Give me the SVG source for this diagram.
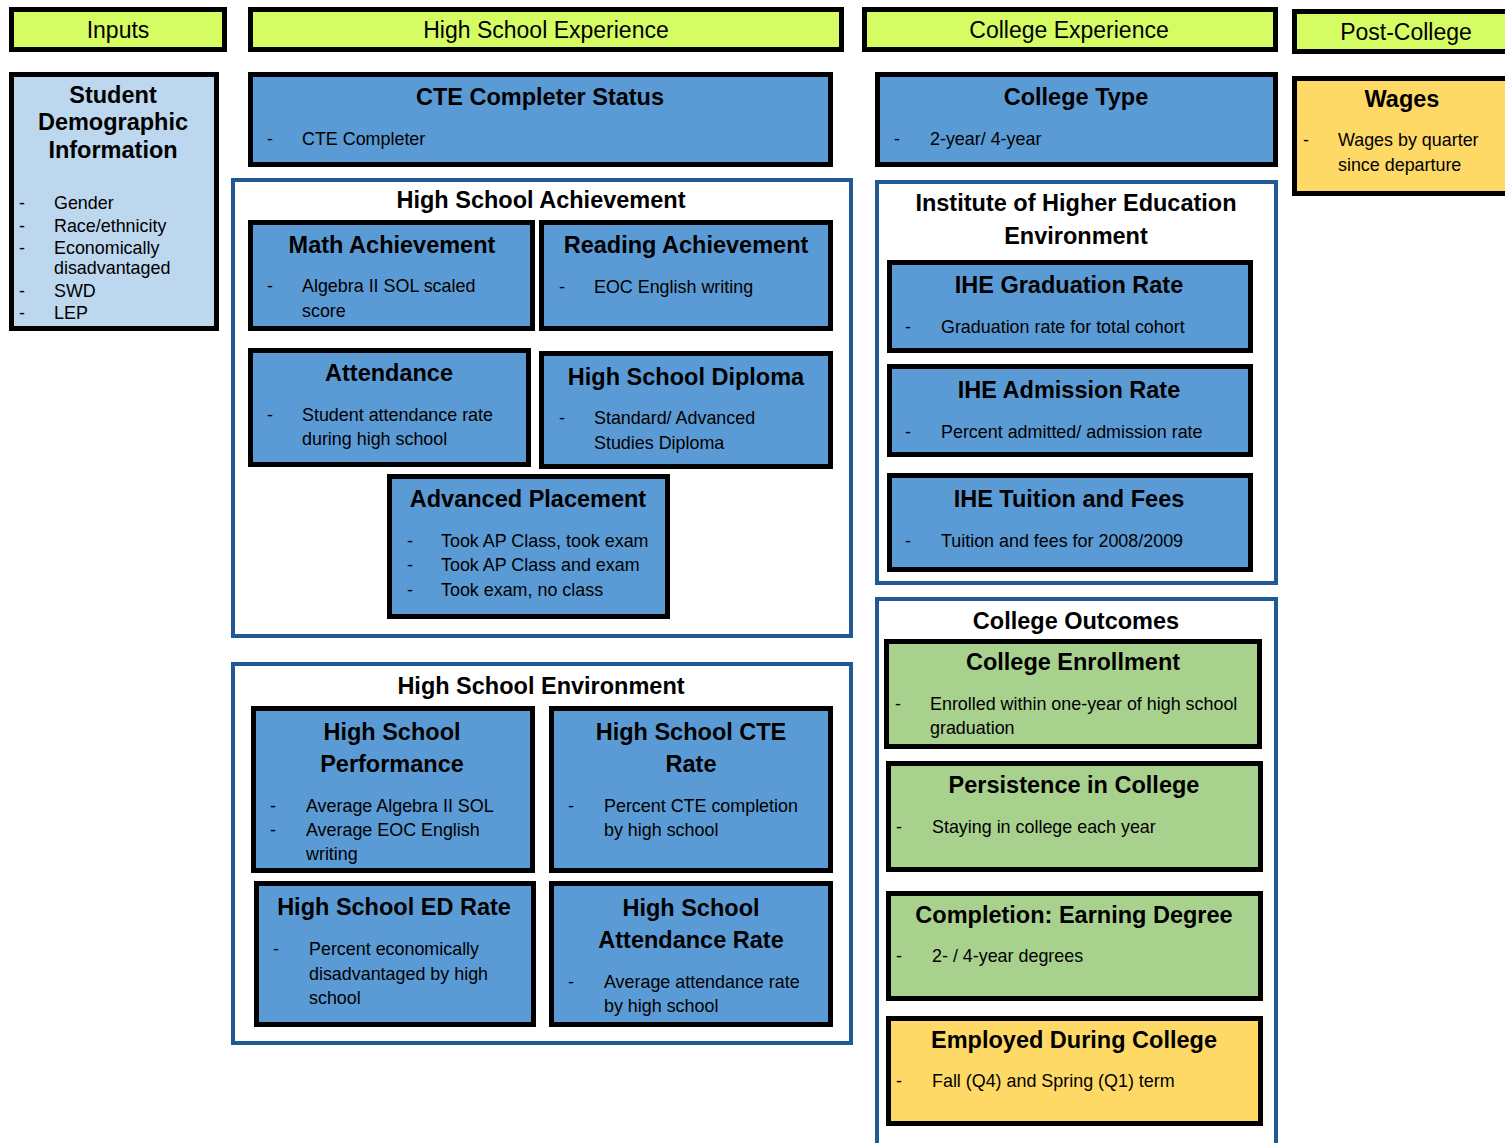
<svg xmlns="http://www.w3.org/2000/svg" width="1505" height="1143" viewBox="0 0 1505 1143">
<style>
text{font-family:"Liberation Sans",Arial,sans-serif;fill:#000}
.hdr{fill:#d5fd63;stroke:#000;stroke-width:5}
.blue{fill:#5b9bd5;stroke:#000;stroke-width:5}
.lblue{fill:#bdd7ee;stroke:#000;stroke-width:5}
.green{fill:#a9d18e;stroke:#000;stroke-width:5}
.yellow{fill:#ffd966;stroke:#000;stroke-width:5}
.cont{fill:#fff;stroke:#1f5a96;stroke-width:4}
.ht{font-size:23px;text-anchor:middle}
.tt{font-size:23.5px;font-weight:bold;text-anchor:middle}
.bt{font-size:17.9px}
.body{transform:translateY(1px)}
</style>
<rect width="1505" height="1143" fill="#fff"/>
<g id="headers">
<g id="h-inputs"><rect class="hdr" x="11.5" y="9.5" width="213" height="40"/><text class="ht" x="118" y="38">Inputs</text></g>
<g id="h-hs"><rect class="hdr" x="250.5" y="9.5" width="591" height="40"/><text class="ht" x="546" y="38">High School Experience</text></g>
<g id="h-college"><rect class="hdr" x="864.5" y="9.5" width="411" height="40"/><text class="ht" x="1069" y="38">College Experience</text></g>
<g id="h-post"><rect class="hdr" x="1294.5" y="11.5" width="220" height="40"/><text class="ht" x="1406" y="40">Post-College</text></g>
</g>
<g id="containers">
<g id="c-hsach"><rect class="cont" x="233" y="180" width="618" height="456"/><text class="tt" x="541" y="208">High School Achievement</text></g>
<g id="c-hsenv"><rect class="cont" x="233" y="664" width="618" height="379"/><text class="tt" x="541" y="694">High School Environment</text></g>
<g id="c-ihe"><rect class="cont" x="877" y="182" width="399" height="401"/><text class="tt" x="1076" y="211">Institute of Higher Education</text><text class="tt" x="1076" y="244">Environment</text></g>
<g id="c-outcomes"><rect class="cont" x="877" y="599" width="399" height="560"/><text class="tt" x="1076" y="629">College Outcomes</text></g>
</g>
<g id="nodes">
<g id="n-demo"><rect class="lblue" x="11.5" y="74.5" width="205" height="254"/>
<text class="tt" x="113" y="103">Student</text><text class="tt" x="113" y="130">Demographic</text><text class="tt" x="113" y="158">Information</text>
<g class="body"><text class="bt" x="19" y="208">-</text><text class="bt" x="54" y="208">Gender</text>
<text class="bt" x="19" y="231">-</text><text class="bt" x="54" y="231">Race/ethnicity</text>
<text class="bt" x="19" y="253">-</text><text class="bt" x="54" y="253">Economically</text>
<text class="bt" x="54" y="273">disadvantaged</text>
<text class="bt" x="19" y="296">-</text><text class="bt" x="54" y="296">SWD</text>
<text class="bt" x="19" y="318">-</text><text class="bt" x="54" y="318">LEP</text></g></g>
<g id="n-cte"><rect class="blue" x="250.5" y="74.5" width="580" height="90"/><text class="tt" x="540" y="105">CTE Completer Status</text>
<g class="body"><text class="bt" x="267" y="144">-</text><text class="bt" x="302" y="144">CTE Completer</text></g></g>
<g id="n-math"><rect class="blue" x="250.5" y="222.5" width="282" height="106"/><text class="tt" x="392" y="253">Math Achievement</text>
<g class="body"><text class="bt" x="267" y="291">-</text><text class="bt" x="302" y="291">Algebra II SOL scaled</text><text class="bt" x="302" y="316">score</text></g></g>
<g id="n-reading"><rect class="blue" x="541.5" y="222.5" width="289" height="106"/><text class="tt" x="686" y="253">Reading Achievement</text>
<g class="body"><text class="bt" x="559" y="292">-</text><text class="bt" x="594" y="292">EOC English writing</text></g></g>
<g id="n-attend"><rect class="blue" x="250.5" y="350.5" width="278" height="114"/><text class="tt" x="389" y="381">Attendance</text>
<g class="body"><text class="bt" x="267" y="420">-</text><text class="bt" x="302" y="420">Student attendance rate</text><text class="bt" x="302" y="444">during high school</text></g></g>
<g id="n-diploma"><rect class="blue" x="541.5" y="353.5" width="289" height="113"/><text class="tt" x="686" y="385">High School Diploma</text>
<g class="body"><text class="bt" x="559" y="423">-</text><text class="bt" x="594" y="423">Standard/ Advanced</text><text class="bt" x="594" y="448">Studies Diploma</text></g></g>
<g id="n-ap"><rect class="blue" x="389.5" y="476.5" width="278" height="140"/><text class="tt" x="528" y="507">Advanced Placement</text>
<g class="body"><text class="bt" x="407" y="546">-</text><text class="bt" x="441" y="546">Took AP Class, took exam</text>
<text class="bt" x="407" y="570">-</text><text class="bt" x="441" y="570">Took AP Class and exam</text>
<text class="bt" x="407" y="595">-</text><text class="bt" x="441" y="595">Took exam, no class</text></g></g>
<g id="n-hsperf"><rect class="blue" x="253.5" y="708.5" width="279" height="162"/><text class="tt" x="392" y="740">High School</text><text class="tt" x="392" y="772">Performance</text>
<g class="body"><text class="bt" x="270" y="811">-</text><text class="bt" x="306" y="811">Average Algebra II SOL</text>
<text class="bt" x="270" y="835">-</text><text class="bt" x="306" y="835">Average EOC English</text><text class="bt" x="306" y="859">writing</text></g></g>
<g id="n-hscte"><rect class="blue" x="551.5" y="708.5" width="279" height="162"/><text class="tt" x="691" y="740">High School CTE</text><text class="tt" x="691" y="772">Rate</text>
<g class="body"><text class="bt" x="568" y="811">-</text><text class="bt" x="604" y="811">Percent CTE completion</text><text class="bt" x="604" y="835">by high school</text></g></g>
<g id="n-hsed"><rect class="blue" x="256.5" y="883.5" width="277" height="141"/><text class="tt" x="394" y="915">High School ED Rate</text>
<g class="body"><text class="bt" x="273" y="954">-</text><text class="bt" x="309" y="954">Percent economically</text><text class="bt" x="309" y="979">disadvantaged by high</text><text class="bt" x="309" y="1003">school</text></g></g>
<g id="n-hsatt"><rect class="blue" x="551.5" y="883.5" width="279" height="141"/><text class="tt" x="691" y="916">High School</text><text class="tt" x="691" y="948">Attendance Rate</text>
<g class="body"><text class="bt" x="568" y="987">-</text><text class="bt" x="604" y="987">Average attendance rate</text><text class="bt" x="604" y="1011">by high school</text></g></g>
<g id="n-ctype"><rect class="blue" x="877.5" y="74.5" width="398" height="90"/><text class="tt" x="1076" y="105">College Type</text>
<g class="body"><text class="bt" x="894" y="144">-</text><text class="bt" x="930" y="144">2-year/ 4-year</text></g></g>
<g id="n-ihegrad"><rect class="blue" x="889.5" y="262.5" width="361" height="88"/><text class="tt" x="1069" y="293">IHE Graduation Rate</text>
<g class="body"><text class="bt" x="905" y="332">-</text><text class="bt" x="941" y="332">Graduation rate for total cohort</text></g></g>
<g id="n-iheadm"><rect class="blue" x="889.5" y="366.5" width="361" height="88"/><text class="tt" x="1069" y="398">IHE Admission Rate</text>
<g class="body"><text class="bt" x="905" y="437">-</text><text class="bt" x="941" y="437">Percent admitted/ admission rate</text></g></g>
<g id="n-ihetuit"><rect class="blue" x="889.5" y="475.5" width="361" height="94"/><text class="tt" x="1069" y="507">IHE Tuition and Fees</text>
<g class="body"><text class="bt" x="905" y="546">-</text><text class="bt" x="941" y="546">Tuition and fees for 2008/2009</text></g></g>
<g id="n-enroll"><rect class="green" x="886.5" y="641.5" width="373" height="105"/><text class="tt" x="1073" y="670">College Enrollment</text>
<g class="body"><text class="bt" x="895" y="709">-</text><text class="bt" x="930" y="709">Enrolled within one-year of high school</text><text class="bt" x="930" y="733">graduation</text></g></g>
<g id="n-persist"><rect class="green" x="888.5" y="763.5" width="372" height="106"/><text class="tt" x="1074" y="793">Persistence in College</text>
<g class="body"><text class="bt" x="896" y="832">-</text><text class="bt" x="932" y="832">Staying in college each year</text></g></g>
<g id="n-complete"><rect class="green" x="888.5" y="893.5" width="372" height="105"/><text class="tt" x="1074" y="923">Completion: Earning Degree</text>
<g class="body"><text class="bt" x="896" y="961">-</text><text class="bt" x="932" y="961">2- / 4-year degrees</text></g></g>
<g id="n-employed"><rect class="yellow" x="888.5" y="1018.5" width="372" height="105"/><text class="tt" x="1074" y="1048">Employed During College</text>
<g class="body"><text class="bt" x="896" y="1086">-</text><text class="bt" x="932" y="1086">Fall (Q4) and Spring (Q1) term</text></g></g>
<g id="n-wages"><rect class="yellow" x="1294.5" y="78.5" width="220" height="115"/><text class="tt" x="1402" y="107">Wages</text>
<g class="body"><text class="bt" x="1303" y="145">-</text><text class="bt" x="1338" y="145">Wages by quarter</text><text class="bt" x="1338" y="170">since departure</text></g></g>
</g>
<g id="connectors"/>
</svg>
